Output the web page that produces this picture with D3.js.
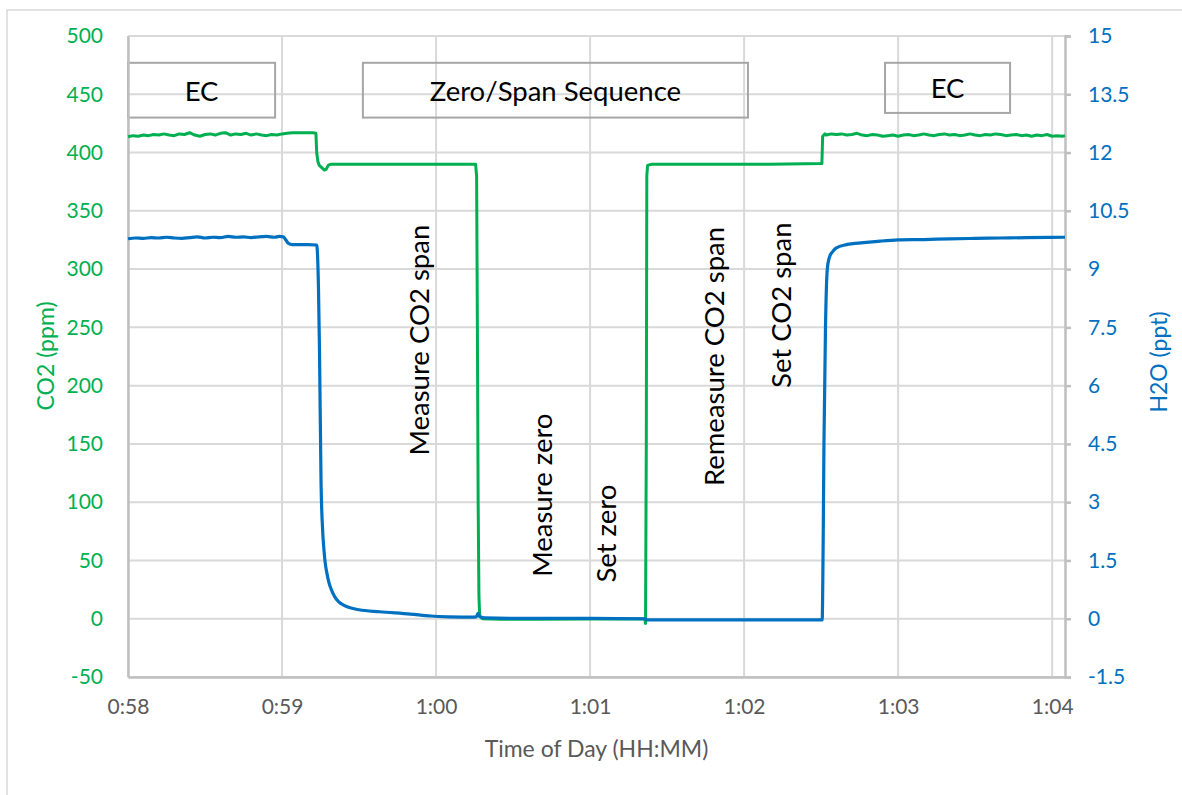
<!DOCTYPE html>
<html>
<head>
<meta charset="utf-8">
<script src="https://cdn.jsdelivr.net/npm/d3@7"></script>
<style>
  html, body { margin: 0; padding: 0; background: #fff; }
  svg { display: block; font-family: Lato, "Open Sans", sans-serif; }
</style>
</head>
<body>
<div id="chart"></div>
<script>
// Time is stored as seconds after 0:58:00
var startSec = 58 * 60;
var endOffset = 365;

var timeTicks = [0, 60, 120, 180, 240, 300, 360];
var timeTickLabels = ["0:58", "0:59", "1:00", "1:01", "1:02", "1:03", "1:04"];
var co2Ticks = [-50, 0, 50, 100, 150, 200, 250, 300, 350, 400, 450, 500];
var h2oTicks = [-1.5, 0, 1.5, 3, 4.5, 6, 7.5, 9, 10.5, 12, 13.5, 15];

// CO2 (ppm): [seconds after 0:58, ppm]
var co2Points = [
  [0, 413.5], [2, 414.5], [4, 414], [6, 415], [8, 414.5], [10, 415.5], [12, 415], [14, 416],
  [16, 415], [18, 414.5], [20, 416], [22, 415.5], [24, 417], [26, 415], [28, 414], [30, 415.5],
  [32, 416], [34, 415], [36, 416.5], [38, 417], [40, 415], [42, 416], [44, 415.5], [46, 416.5],
  [48, 415], [50, 416], [52, 415], [54, 414.5], [56, 415.5], [58, 415], [60, 416], [62, 416.5],
  [64, 417], [66, 417], [68, 417], [70, 417], [72, 417], [73.2, 416.5],
  [73.5, 400], [74, 392], [74.5, 389], [75.5, 387], [76.5, 385], [77.2, 385.5], [78, 389],
  [79, 390], [90, 390], [105, 390], [120, 390], [135.4, 390],
  [135.8, 380], [136.1, 250], [136.4, 100], [136.7, 20], [137, 2], [138, 0], [145, -0.5],
  [160, -0.5], [180, -0.3], [201.3, -0.3], [201.6, -4], [201.9, 150], [202.1, 380],
  [202.4, 389], [204, 390], [230, 390], [250, 390], [270.3, 390.5],
  [270.6, 414], [271.5, 416], [272, 415], [274, 416], [276, 415.5], [278, 416], [280, 415],
  [282, 415.5], [284, 416.5], [286, 415], [288, 414.5], [290, 415.5], [292, 415], [294, 414],
  [296, 414.5], [298, 415], [300, 414], [302, 415], [304, 415.5], [306, 414.5], [308, 415],
  [310, 416], [312, 415], [314, 414.5], [316, 415.5], [318, 416], [320, 415], [322, 415.5],
  [324, 414.5], [326, 415], [328, 416], [330, 415], [332, 414.5], [334, 415.5], [336, 415],
  [338, 416], [340, 415.5], [342, 414.5], [344, 415], [346, 415.5], [348, 414.5], [350, 415],
  [352, 414], [354, 415], [356, 414.5], [358, 415.5], [360, 414], [362, 414.5], [364, 414],
  [365, 414.5]
];

// H2O (ppt): [seconds after 0:58, ppt]
var h2oPoints = [
  [0, 9.78], [3, 9.8], [6, 9.79], [9, 9.81], [12, 9.8], [15, 9.82], [18, 9.8], [21, 9.79],
  [24, 9.81], [27, 9.83], [30, 9.8], [33, 9.82], [36, 9.81], [39, 9.84], [42, 9.82], [45, 9.83],
  [48, 9.81], [51, 9.83], [54, 9.84], [57, 9.82], [59, 9.84], [60.5, 9.83], [61.5, 9.75],
  [62.5, 9.66], [64, 9.63], [70, 9.63], [73.5, 9.62],
  [74.2, 8.5], [74.6, 6.9], [75.2, 3.5], [75.8, 2.3], [76.3, 1.8], [76.8, 1.45], [77.4, 1.2],
  [78.2, 0.95], [79.2, 0.75], [80.5, 0.57], [82, 0.44], [84, 0.35], [86.5, 0.28], [90, 0.23],
  [98, 0.18], [110, 0.12], [118, 0.07], [125, 0.05], [135, 0.04], [135.8, 0.06], [136.3, 0.14],
  [137, 0.06], [139, 0.02], [150, 0.01], [180, 0.01], [201.5, 0], [202, -0.03], [230, -0.03],
  [270.4, -0.03],
  [270.8, 2], [271.1, 4.5], [271.7, 7.5], [272.4, 9.0], [273.2, 9.3], [274.5, 9.45],
  [275.8, 9.54], [279.9, 9.63], [286.5, 9.68], [293, 9.72], [300, 9.75], [310, 9.76],
  [320, 9.78], [330, 9.79], [340, 9.8], [350, 9.81], [365, 9.82]
];

// Boxed phase labels: [start sec, end sec, low ppm, high ppm, text]
var phaseBoxes = [
  [0, 57.3, 430, 477, "EC"],
  [91.5, 241.5, 430, 477, "Zero/Span Sequence"],
  [294.9, 343.6, 434, 477, "EC"]
];

// Vertical step labels: [sec, ppm at text centre, text]
var stepLabels = [
  [113, 239, "Measure CO2 span"],
  [161, 106, "Measure zero"],
  [186, 73, "Set zero"],
  [228, 225, "Remeasure CO2 span"],
  [254, 269, "Set CO2 span"]
];

var width = 1182, height = 795;
var margin = { top: 36, right: 117, bottom: 118, left: 128 };
var green = "#00b050", blue = "#0070c0", grey = "#595959";

var svg = d3.select("#chart").append("svg")
    .attr("width", width)
    .attr("height", height);

// outer chart frame (clipped by the window on the right and bottom)
svg.append("rect")
    .attr("x", 7).attr("y", 10)
    .attr("width", 1200).attr("height", 800)
    .attr("fill", "none")
    .attr("stroke", "#d9d9d9")
    .attr("stroke-width", 1.5);

var x = d3.scaleLinear()
    .domain([startSec, startSec + endOffset])
    .range([margin.left, width - margin.right]);
var yL = d3.scaleLinear()
    .domain([-50, 500])
    .range([height - margin.bottom, margin.top]);
var yR = d3.scaleLinear()
    .domain([-1.5, 15])
    .range([height - margin.bottom, margin.top]);

// gridlines
var grid = svg.append("g").attr("stroke", "#d9d9d9").attr("stroke-width", 2);
grid.selectAll("line.h").data(co2Ticks).enter().append("line")
    .attr("x1", x.range()[0]).attr("x2", x.range()[1])
    .attr("y1", function (d) { return yL(d); })
    .attr("y2", function (d) { return yL(d); });
grid.selectAll("line.v").data(timeTicks).enter().append("line")
    .attr("x1", function (d) { return x(startSec + d); })
    .attr("x2", function (d) { return x(startSec + d); })
    .attr("y1", yL.range()[0]).attr("y2", yL.range()[1]);

// phase boxes
var boxes = svg.append("g");
boxes.selectAll("rect").data(phaseBoxes).enter().append("rect")
    .attr("x", function (d) { return x(startSec + d[0]); })
    .attr("y", function (d) { return yL(d[3]); })
    .attr("width", function (d) { return x(startSec + d[1]) - x(startSec + d[0]); })
    .attr("height", function (d) { return yL(d[2]) - yL(d[3]); })
    .attr("fill", "none")
    .attr("stroke", "#a6a6a6")
    .attr("stroke-width", 2);
boxes.selectAll("text").data(phaseBoxes).enter().append("text")
    .attr("x", function (d) { return (x(startSec + d[0]) + x(startSec + d[1])) / 2; })
    .attr("y", function (d) { return (yL(d[2]) + yL(d[3])) / 2; })
    .attr("text-anchor", "middle")
    .attr("dominant-baseline", "central")
    .attr("font-size", 27.5)
    .attr("fill", "#000")
    .text(function (d) { return d[4]; });

// axes (plain hyphen minus, as in the original)
var numFmt = function (d) { return String(d); };
var xAxis = d3.axisBottom(x)
    .tickValues(timeTicks.map(function (d) { return startSec + d; }))
    .tickFormat(function (d, i) { return timeTickLabels[i]; })
    .tickSize(0).tickPadding(22);
var leftAxis = d3.axisLeft(yL).tickValues(co2Ticks).tickSize(0).tickPadding(25)
    .tickFormat(numFmt);
var rightAxis = d3.axisRight(yR).tickValues(h2oTicks).tickSize(6).tickPadding(17)
    .tickFormat(numFmt);

function styleAxis(g, color) {
    g.select(".domain").attr("stroke", "#bfbfbf").attr("stroke-width", 2.5);
    g.selectAll(".tick line").attr("stroke", "#bfbfbf").attr("stroke-width", 2.5);
    g.selectAll(".tick text").attr("fill", color).attr("font-size", 21)
        .attr("font-family", "Lato, sans-serif");
}

svg.append("g")
    .attr("transform", "translate(0," + yL.range()[0] + ")")
    .call(xAxis).call(styleAxis, grey);
svg.append("g")
    .attr("transform", "translate(" + x.range()[0] + ",0)")
    .call(leftAxis).call(styleAxis, green);
svg.append("g")
    .attr("transform", "translate(" + x.range()[1] + ",0)")
    .call(rightAxis).call(styleAxis, blue);

// series lines
var co2Line = d3.line()
    .x(function (d) { return x(startSec + d[0]); })
    .y(function (d) { return yL(d[1]); });
var h2oLine = d3.line()
    .curve(d3.curveMonotoneX)
    .x(function (d) { return x(startSec + d[0]); })
    .y(function (d) { return yR(d[1]); });

svg.append("path").datum(co2Points)
    .attr("d", co2Line)
    .attr("fill", "none").attr("stroke", green)
    .attr("stroke-width", 3).attr("stroke-linejoin", "round");
svg.append("path").datum(h2oPoints)
    .attr("d", h2oLine)
    .attr("fill", "none").attr("stroke", blue)
    .attr("stroke-width", 3.2).attr("stroke-linejoin", "round");

// vertical step labels
svg.append("g").selectAll("text").data(stepLabels).enter().append("text")
    .attr("transform", function (d) {
        return "translate(" + x(startSec + d[0]) + "," + yL(d[1]) + ") rotate(-90)";
    })
    .attr("text-anchor", "middle")
    .attr("dominant-baseline", "central")
    .attr("font-size", 27.5)
    .attr("fill", "#000")
    .text(function (d) { return d[2]; });

// axis titles
svg.append("text")
    .attr("x", (x.range()[0] + x.range()[1]) / 2)
    .attr("y", 748)
    .attr("text-anchor", "middle")
    .attr("dominant-baseline", "central")
    .attr("font-size", 23)
    .attr("fill", grey)
    .text("Time of Day (HH:MM)");
svg.append("text")
    .attr("transform", "translate(45,356) rotate(-90)")
    .attr("text-anchor", "middle")
    .attr("dominant-baseline", "central")
    .attr("font-size", 23)
    .attr("fill", green)
    .text("CO2 (ppm)");
svg.append("text")
    .attr("transform", "translate(1158,362) rotate(-90)")
    .attr("text-anchor", "middle")
    .attr("dominant-baseline", "central")
    .attr("font-size", 23)
    .attr("fill", blue)
    .text("H2O (ppt)");
</script>
</body>
</html>
